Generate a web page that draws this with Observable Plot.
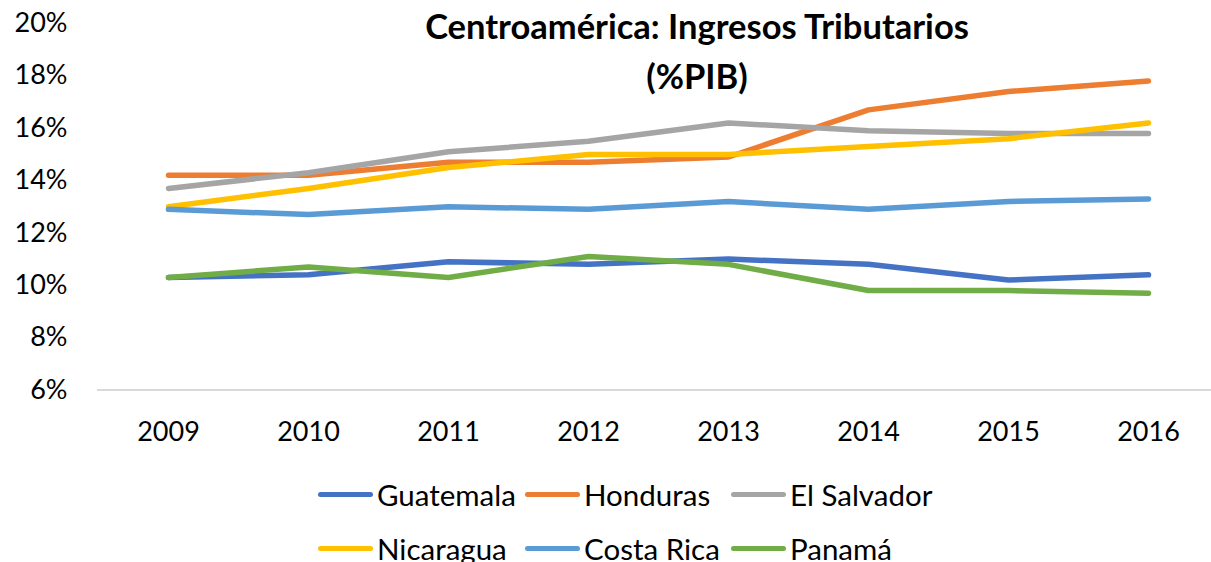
<!DOCTYPE html>
<html>
<head>
<meta charset="utf-8">
<script src="https://cdn.jsdelivr.net/npm/d3@7"></script>
<script src="https://cdn.jsdelivr.net/npm/@observablehq/plot@0.6"></script>
<style>
  html, body { margin: 0; padding: 0; background: #fff; overflow: hidden; }
  #wrap { position: relative; width: 1211px; height: 562px; font-family: Lato, "Open Sans", sans-serif; }
  #title { position: absolute; left: 697px; top: 0; transform: translateX(-50%); text-align: center;
           font-weight: bold; font-size: 34.5px; color: #000; white-space: nowrap; line-height: 50px; margin-top: 1px; }
  #legend { position: absolute; left: 318px; top: 467px; display: grid;
            grid-template-columns: 207px 206px 200px; grid-auto-rows: 54px; font-size: 29.5px; color: #000; }
  .item { display: flex; align-items: center; white-space: nowrap; }
  .sw { width: 55px; height: 5px; border-radius: 3px; margin-right: 4px; flex: none; }
</style>
</head>
<body>
<div id="wrap">
  <div id="chart"></div>
  <div id="title">Centroamérica: Ingresos Tributarios<br>(%PIB)</div>
  <div id="legend"></div>
</div>
<script>
const years = ["2009","2010","2011","2012","2013","2014","2015","2016"];
const countries = ["Guatemala","Honduras","El Salvador","Nicaragua","Costa Rica","Panamá"];
const colors = ["#4472C4","#ED7D31","#A5A5A5","#FFC000","#5B9BD5","#70AD47"];
const guatemala  = [10.3, 10.4, 10.9, 10.8, 11.0, 10.8, 10.2, 10.4];
const honduras   = [14.2, 14.2, 14.7, 14.7, 14.9, 16.7, 17.4, 17.8];
const elSalvador = [13.7, 14.3, 15.1, 15.5, 16.2, 15.9, 15.8, 15.8];
const nicaragua  = [13.0, 13.7, 14.5, 15.0, 15.0, 15.3, 15.6, 16.2];
const costaRica  = [12.9, 12.7, 13.0, 12.9, 13.2, 12.9, 13.2, 13.3];
const panama     = [10.3, 10.7, 10.3, 11.1, 10.8, 9.8, 9.8, 9.7];
const yTicks = [6, 8, 10, 12, 14, 16, 18, 20];

const seriesValues = [guatemala, honduras, elSalvador, nicaragua, costaRica, panama];
const data = [];
countries.forEach((c, i) => years.forEach((y, j) => data.push({country: c, year: y, value: seriesValues[i][j]})));

const chart = Plot.plot({
  width: 1211,
  height: 465,
  marginTop: 23,
  marginBottom: 75.5,
  marginLeft: 97,
  marginRight: 0,
  style: { fontFamily: "Lato, 'Open Sans', sans-serif", fontSize: "27px", color: "#000", background: "#fff" },
  x: { type: "point", domain: years, range: [167, 1148], padding: 0, label: null },
  y: { domain: [6, 20], label: null },
  color: { domain: countries, range: colors },
  marks: [
    Plot.axisX({ tickSize: 0, tickPadding: 32, fontSize: 27, label: null }),
    Plot.axisY({ ticks: yTicks, tickSize: 0, tickPadding: 30, fontSize: 27, tickFormat: d => d + "%", label: null }),
    Plot.ruleY([6], { stroke: "#D9D9D9", strokeWidth: 2 }),
    Plot.line(data, { x: "year", y: "value", z: "country", stroke: "country", strokeWidth: 5.5, strokeLinecap: "round", strokeLinejoin: "round" })
  ]
});
document.getElementById("chart").appendChild(chart);

const legend = document.getElementById("legend");
countries.forEach((c, i) => {
  const it = document.createElement("div");
  it.className = "item";
  it.innerHTML = `<span class="sw" style="background:${colors[i]}"></span><span>${c}</span>`;
  legend.appendChild(it);
});
</script>
</body>
</html>
